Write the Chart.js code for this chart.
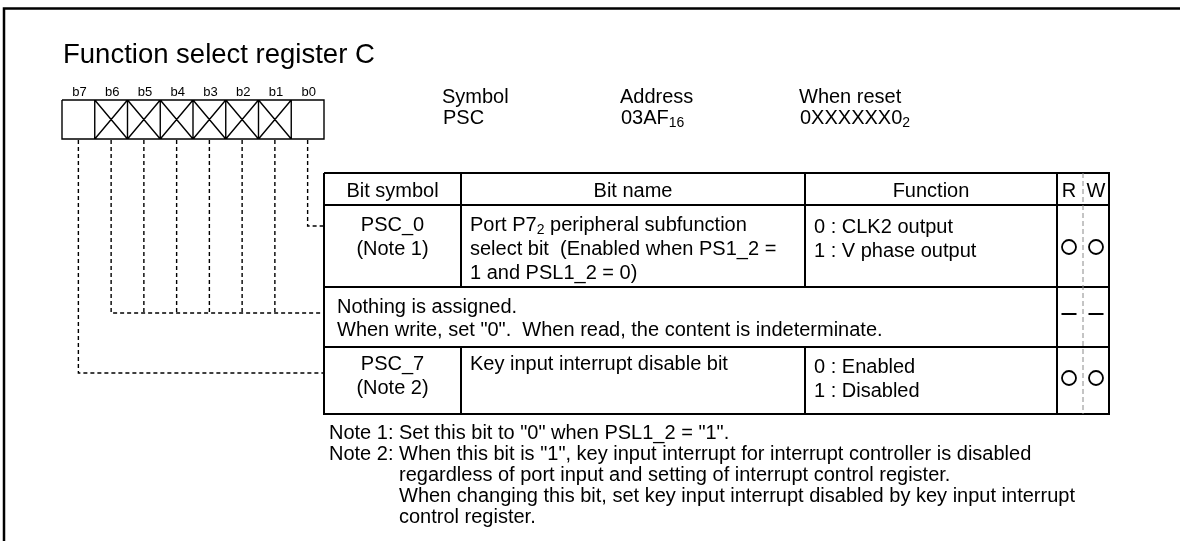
<!DOCTYPE html>
<html>
<head>
<meta charset="utf-8">
<script src="https://cdn.jsdelivr.net/npm/chart.js@4/dist/chart.umd.min.js"></script>
<style>
  html, body { margin: 0; padding: 0; background: #fff; }
  #wrap { width: 1180px; height: 541px; position: relative; }
</style>
</head>
<body>
<div id="wrap"><canvas id="reg"></canvas></div>
<script>
// register contents
const titleText = 'Function select register C';
const bitLabels = ['b7', 'b6', 'b5', 'b4', 'b3', 'b2', 'b1', 'b0'];
const reservedBits = [false, true, true, true, true, true, true, false];
const infoHeads = ['Symbol', 'Address', 'When reset'];
const infoValues = [['PSC'], ['03AF', { sub: '16' }], ['0XXXXXX0', { sub: '2' }]];
const columnHeads = ['Bit symbol', 'Bit name', 'Function', 'R', 'W'];
const bitSymbols = [['PSC_0', '(Note 1)'], null, ['PSC_7', '(Note 2)']];
const bitNames = [
    [['Port P7', { sub: '2' }, ' peripheral subfunction'], 'select bit  (Enabled when PS1_2 =', '1 and PSL1_2 = 0)'],
    ['Nothing is assigned.', 'When write, set "0".  When read, the content is indeterminate.'],
    ['Key input interrupt disable bit']
];
const functionTexts = [['0 : CLK2 output', '1 : V phase output'], null, ['0 : Enabled', '1 : Disabled']];
const rwMarks = [['O', 'O'], ['-', '-'], ['O', 'O']];
// which table row each bit (b7..b0) leads to
const bitRow = [2, 1, 1, 1, 1, 1, 1, 0];
const notes = [
    ['Note 1: ', 'Set this bit to "0" when PSL1_2 = "1".'],
    ['Note 2: ', 'When this bit is "1", key input interrupt for interrupt controller is disabled'],
    ['', 'regardless of port input and setting of interrupt control register.'],
    ['', 'When changing this bit, set key input interrupt disabled by key input interrupt'],
    ['', 'control register.']
];

// layout (pixels in the 1180 x 541 frame)
const L = {
    regX: 62, cellW: 32.75, regTop: 100, regBot: 139,
    tX0: 324, tX1: 1109, colSym: 461, colFn: 805, colR: 1057, colRW: 1083,
    rowY: [173, 205, 287, 347, 414],
    leaderY: [226, 313, 373],
    rowText: [[224, 248, 272], [306, 329], [363, 387]],
    fnText: [[226, 250], null, [366, 390]],
    markY: [247, 314, 378],
    noteY0: 432, noteStep: 21, noteX: 329, noteBody: 399
};
const FONT = '"Liberation Sans", Arial, Helvetica, sans-serif';
const FS = 20;

function segs(list) {
    const pts = [];
    list.forEach(s => {
        for (let i = 0; i < s.length; i += 2) pts.push({ x: s[i], y: s[i + 1] });
        pts.push({ x: s[s.length - 2], y: null });
    });
    return pts;
}
function lineSet(list, width, color, dash) {
    return {
        type: 'line', data: segs(list), borderColor: color || '#000', borderWidth: width,
        borderDash: dash || [], pointRadius: 0, fill: false, tension: 0, spanGaps: false
    };
}

const regCells = bitLabels.map((b, i) => L.regX + i * L.cellW);
const cellMid = i => regCells[i] + L.cellW / 2;
const regRight = L.regX + 8 * L.cellW;

// register box with crossed (unused) bits
const regLines = [[L.regX, L.regTop, regRight, L.regTop, regRight, L.regBot, L.regX, L.regBot, L.regX, L.regTop]];
for (let i = 1; i < 8; i++) regLines.push([regCells[i], L.regTop, regCells[i], L.regBot]);
reservedBits.forEach((r, i) => {
    if (!r) return;
    regLines.push([regCells[i], L.regTop, regCells[i] + L.cellW, L.regBot]);
    regLines.push([regCells[i], L.regBot, regCells[i] + L.cellW, L.regTop]);
});

// dashed leaders from bits to table rows
const leaderLines = [];
bitRow.forEach((r, i) => {
    const y = L.leaderY[r];
    const first = bitRow.indexOf(r) === i;
    if (first) leaderLines.push([cellMid(i), L.regBot + 1, cellMid(i), y, L.tX0, y]);
    else leaderLines.push([cellMid(i), L.regBot + 1, cellMid(i), y]);
});

// table grid
const R = L.rowY;
const tableLines = [
    [L.tX0, R[0], L.tX1, R[0], L.tX1, R[4], L.tX0, R[4], L.tX0, R[0]],
    [L.tX0, R[1], L.tX1, R[1]], [L.tX0, R[2], L.tX1, R[2]], [L.tX0, R[3], L.tX1, R[3]],
    [L.colSym, R[0], L.colSym, R[2]], [L.colSym, R[3], L.colSym, R[4]],
    [L.colFn, R[0], L.colFn, R[2]], [L.colFn, R[3], L.colFn, R[4]],
    [L.colR, R[0], L.colR, R[4]]
];
const rwDivider = [[L.colRW, R[0], L.colRW, R[4]]];
const rwX = [(L.colR + L.colRW) / 2 - 1, (L.colRW + L.tX1) / 2];
const dashLines = [];
const circlePts = [];
rwMarks.forEach((m, r) => m.forEach((k, c) => {
    if (k === '-') dashLines.push([rwX[c] - 7.5, L.markY[r], rwX[c] + 7.5, L.markY[r]]);
    if (k === 'O') circlePts.push({ x: rwX[c], y: L.markY[r] });
}));
const frameLines = [[4, 545, 4, 8.5, 1185, 8.5]];

// text drawing, with small lowered digits for radix subscripts
function richWidth(ctx, parts, size) {
    let w = 0;
    parts.forEach(p => {
        if (typeof p === 'string') { ctx.font = size + 'px ' + FONT; w += ctx.measureText(p).width; }
        else { ctx.font = Math.round(size * 0.7) + 'px ' + FONT; w += ctx.measureText(p.sub).width; }
    });
    return w;
}
function drawRich(ctx, parts, x, y, size, align) {
    if (typeof parts === 'string') parts = [parts];
    let cx = x;
    if (align === 'center') cx = x - richWidth(ctx, parts, size) / 2;
    ctx.textAlign = 'left';
    ctx.textBaseline = 'alphabetic';
    const base = y + size * 0.36;
    parts.forEach(p => {
        if (typeof p === 'string') {
            ctx.font = size + 'px ' + FONT;
            ctx.fillText(p, cx, base);
            cx += ctx.measureText(p).width;
        } else {
            ctx.font = Math.round(size * 0.7) + 'px ' + FONT;
            ctx.fillText(p.sub, cx, base + size * 0.15);
            cx += ctx.measureText(p.sub).width;
        }
    });
}

const textPlugin = {
    id: 'regText',
    afterDraw(chart) {
        const ctx = chart.ctx;
        const sx = v => chart.scales.x.getPixelForValue(v);
        const sy = v => chart.scales.y.getPixelForValue(v);
        ctx.save();
        ctx.fillStyle = '#000';
        drawRich(ctx, titleText, sx(63), sy(53), 27.5, 'left');
        bitLabels.forEach((b, i) => drawRich(ctx, b, sx(cellMid(i) + 1), sy(91), 13, 'center'));
        const infoX = [442, 620, 799];
        infoHeads.forEach((h, i) => {
            drawRich(ctx, h, sx(infoX[i]), sy(96), FS, 'left');
            drawRich(ctx, infoValues[i], sx(infoX[i] + 1), sy(117), FS, 'left');
        });
        // header row
        const hy = (R[0] + R[1]) / 2 + 1;
        drawRich(ctx, columnHeads[0], sx((L.tX0 + L.colSym) / 2), sy(hy), FS, 'center');
        drawRich(ctx, columnHeads[1], sx((L.colSym + L.colFn) / 2), sy(hy), FS, 'center');
        drawRich(ctx, columnHeads[2], sx((L.colFn + L.colR) / 2), sy(hy), FS, 'center');
        drawRich(ctx, columnHeads[3], sx(rwX[0]), sy(hy), FS, 'center');
        drawRich(ctx, columnHeads[4], sx(rwX[1]), sy(hy), FS, 'center');
        // body rows
        bitSymbols.forEach((s, r) => {
            if (!s) return;
            s.forEach((t, k) => drawRich(ctx, t, sx((L.tX0 + L.colSym) / 2), sy(L.rowText[r][k]), FS, 'center'));
        });
        bitNames.forEach((lines, r) => {
            const x = r === 1 ? L.tX0 + 13 : L.colSym + 9;
            lines.forEach((t, k) => drawRich(ctx, t, sx(x), sy(L.rowText[r][k]), FS, 'left'));
        });
        functionTexts.forEach((lines, r) => {
            if (!lines) return;
            lines.forEach((t, k) => drawRich(ctx, t, sx(L.colFn + 9), sy(L.fnText[r][k]), FS, 'left'));
        });
        // notes
        notes.forEach((n, k) => {
            const y = L.noteY0 + k * L.noteStep;
            if (n[0]) drawRich(ctx, n[0], sx(L.noteX), sy(y), FS, 'left');
            drawRich(ctx, n[1], sx(L.noteBody), sy(y), FS, 'left');
        });
        ctx.restore();
    }
};

new Chart(document.getElementById('reg'), {
    type: 'line',
    data: {
        datasets: [
            lineSet(frameLines, 2.5),
            lineSet(regLines, 1.4),
            lineSet(leaderLines, 1.4, '#000', [4, 3]),
            lineSet(rwDivider, 1, '#8a8a8a', [5, 3]),
            lineSet(tableLines, 2),
            lineSet(dashLines, 2),
            {
                type: 'scatter', data: circlePts, showLine: false,
                pointStyle: 'circle', pointRadius: 7, radius: 7,
                pointBorderWidth: 1.8, borderWidth: 1.8,
                pointBorderColor: '#000', borderColor: '#000',
                pointBackgroundColor: '#fff', backgroundColor: '#fff'
            }
        ]
    },
    options: {
        responsive: true,
        maintainAspectRatio: false,
        animation: false,
        events: [],
        layout: { padding: 0, autoPadding: false },
        plugins: { legend: { display: false }, tooltip: { enabled: false } },
        scales: {
            x: { type: 'linear', min: 0, max: 1180, display: false },
            y: { type: 'linear', min: 0, max: 541, reverse: true, display: false }
        }
    },
    plugins: [textPlugin]
});
</script>
</body>
</html>
